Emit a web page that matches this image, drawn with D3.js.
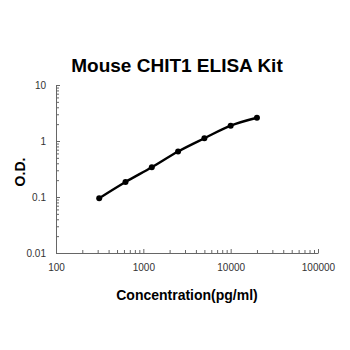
<!DOCTYPE html>
<html>
<head>
<meta charset="utf-8">
<script src="https://cdn.jsdelivr.net/npm/d3@7"></script>
<style>
  body { margin: 0; background: #fff; }
  svg text { font-family: "Liberation Sans", Arial, sans-serif; }
</style>
</head>
<body>
<div id="chart"></div>
<script>
// standard curve values
const concentrations = [312.5, 625, 1250, 2500, 5000, 10000, 20000];
const odValues       = [0.095, 0.185, 0.34, 0.65, 1.12, 1.88, 2.6];
const xTickValues    = [100, 1000, 10000, 100000];
const yTickValues    = [0.01, 0.1, 1, 10];

const W = 350, H = 350;
const plot = { left: 56, right: 318, top: 85, bottom: 253 };

const svg = d3.select("#chart").append("svg")
  .attr("width", W).attr("height", H);

const x = d3.scaleLog().domain([100, 100000]).range([plot.left, plot.right]);
const y = d3.scaleLog().domain([0.01, 10]).range([plot.bottom, plot.top]);

// minor ticks
const minor = (lo, hi) => {
  const out = [];
  for (let d = lo; d < hi; d *= 10)
    for (let k = 2; k <= 9; k++) out.push(d * k);
  return out;
};

const fmt = d => d >= 1 ? d3.format("d")(d) : String(d);

// x axis
const xAxis = svg.append("g").attr("transform", `translate(0,${plot.bottom})`);
xAxis.call(d3.axisBottom(x).tickValues(xTickValues).tickFormat(fmt).tickSizeInner(-4).tickSizeOuter(0).tickPadding(11));
xAxis.append("g").call(d3.axisBottom(x).tickValues(minor(100, 100000)).tickFormat("").tickSizeInner(-3).tickSizeOuter(0))
  .select(".domain").remove();

// y axis
const yAxis = svg.append("g").attr("transform", `translate(${plot.left},0)`);
yAxis.call(d3.axisLeft(y).tickValues(yTickValues).tickFormat(fmt).tickSizeInner(-4).tickSizeOuter(0).tickPadding(10));
yAxis.append("g").call(d3.axisLeft(y).tickValues(minor(0.01, 10)).tickFormat("").tickSizeInner(-3).tickSizeOuter(0))
  .select(".domain").remove();

svg.selectAll(".domain").attr("stroke", "#666");
svg.selectAll(".tick line").attr("stroke", "#666");
svg.selectAll(".tick text")
  .attr("font-size", "10px")
  .attr("fill", "#333")
  .attr("font-family", "\"Liberation Sans\", Arial, sans-serif");

// curve
const pts = concentrations.map((c, i) => [c, odValues[i]]);
svg.append("path")
  .datum(pts)
  .attr("fill", "none")
  .attr("stroke", "#000")
  .attr("stroke-width", 2.4)
  .attr("d", d3.line().x(d => x(d[0])).y(d => y(d[1])).curve(d3.curveMonotoneX));

svg.selectAll("circle.pt")
  .data(pts)
  .enter().append("circle")
  .attr("class", "pt")
  .attr("cx", d => x(d[0]))
  .attr("cy", d => y(d[1]))
  .attr("r", 3)
  .attr("fill", "#000");

// title
svg.append("text")
  .attr("x", 177).attr("y", 72)
  .attr("text-anchor", "middle")
  .attr("font-size", "19px").attr("font-weight", "bold")
  .text("Mouse CHIT1 ELISA Kit");

// axis labels
svg.append("text")
  .attr("x", 187).attr("y", 300)
  .attr("text-anchor", "middle")
  .attr("font-size", "14px").attr("font-weight", "bold")
  .text("Concentration(pg/ml)");

svg.append("text")
  .attr("transform", `translate(25,${(plot.top + plot.bottom) / 2 + 3}) rotate(-90)`)
  .attr("text-anchor", "middle")
  .attr("font-size", "14px").attr("font-weight", "bold")
  .text("O.D.");
</script>
</body>
</html>
